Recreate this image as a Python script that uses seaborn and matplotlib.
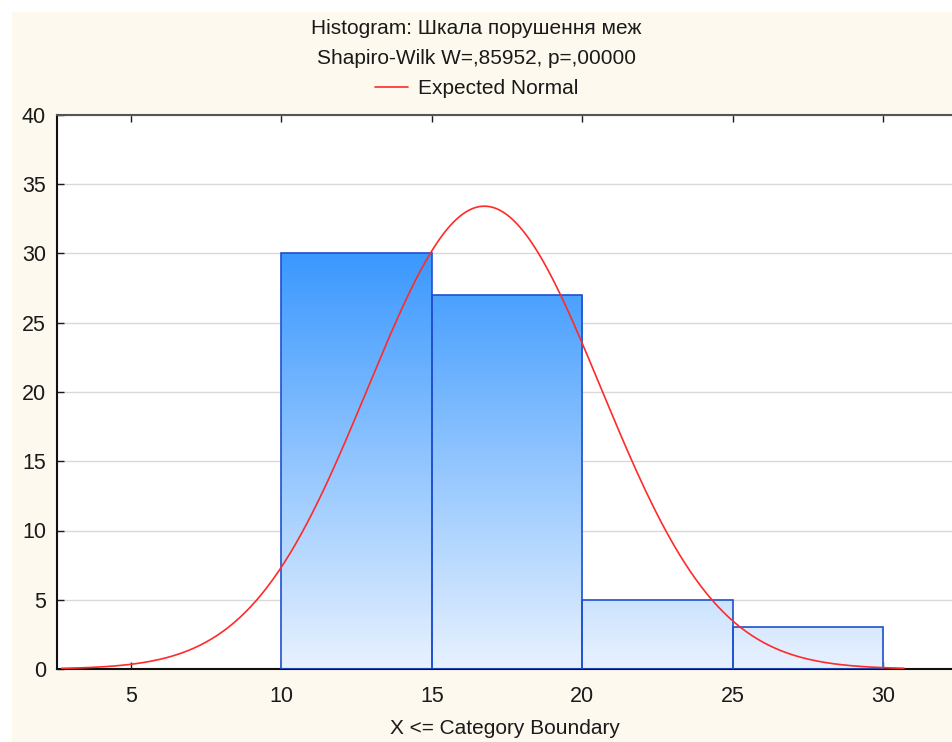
import numpy as np
import pandas as pd
import matplotlib
matplotlib.use("Agg")
import matplotlib.pyplot as plt
import seaborn as sns
from matplotlib.colors import LinearSegmentedColormap
from matplotlib.lines import Line2D
from matplotlib.patches import Rectangle

# histogram
BIN_EDGES = [10, 15, 20, 25, 30]
COUNTS = [30, 27, 5, 3]
MEAN, SD = 16.75, 3.88          # expected normal fit
X_TICKS = [5, 10, 15, 20, 25, 30]
Y_TICKS = [0, 5, 10, 15, 20, 25, 30, 35, 40]

TITLE_1 = "Histogram: Шкала порушення меж"
TITLE_2 = "Shapiro-Wilk W=,85952, p=,00000"
LEGEND = "Expected Normal"
XLABEL = "X <= Category Boundary"

sns.set_style("white")
plt.rcParams["font.family"] = ["Liberation Sans", "DejaVu Sans"]

BEIGE = "#fef9ee"
TXT = "#1a1a1a"

fig = plt.figure(figsize=(9.53, 7.42), dpi=100, facecolor="white")
fig.patches.append(Rectangle((12 / 953, 0), 1, 1 - 12 / 742, transform=fig.transFigure,
                             facecolor=BEIGE, edgecolor="none", zorder=-10))
ax = fig.add_axes([57 / 953, 1 - 669 / 742, 1 - 57 / 953, (669 - 115) / 742])
ax.set_facecolor("white")

df = pd.DataFrame({
    "mid": [(a + b) / 2 for a, b in zip(BIN_EDGES[:-1], BIN_EDGES[1:])],
    "n": COUNTS,
})
sns.histplot(data=df, x="mid", weights="n", bins=BIN_EDGES, ax=ax,
             facecolor="none", edgecolor="#1f50d0", linewidth=1.2, alpha=1, zorder=3)

# vertical gradient fill clipped to each bar
cmap = LinearSegmentedColormap.from_list("bar", ["#e8f2fe", "#3a98ff"])
grad = np.linspace(0, 1, 256).reshape(-1, 1)
for p in ax.patches:
    im = ax.imshow(grad, extent=[BIN_EDGES[0], BIN_EDGES[-1], 0, max(COUNTS)],
                   origin="lower", aspect="auto", cmap=cmap, zorder=2)
    im.set_clip_path(p)

# expected normal curve (counts scale)
xs = np.linspace(2.7, 30.7, 300)
binw = BIN_EDGES[1] - BIN_EDGES[0]
ys = sum(COUNTS) * binw / (SD * np.sqrt(2 * np.pi)) * np.exp(-0.5 * ((xs - MEAN) / SD) ** 2)
sns.lineplot(x=xs, y=ys, ax=ax, color="#ff2a2a", linewidth=1.2, zorder=4)

ax.set_xlim(2.54, 32.33)
ax.set_ylim(0, 40)
ax.set_xticks(X_TICKS)
ax.set_yticks(Y_TICKS)
ax.yaxis.grid(True, color="#d9d9d9", linewidth=1, zorder=0)
ax.set_axisbelow(True)
ax.tick_params(axis="both", direction="in", length=5, width=1, labelsize=15.5,
               colors=TXT, top=True, left=True, bottom=True)
ax.tick_params(axis="x", pad=12)
ax.tick_params(axis="y", pad=8)
for s in ["left", "bottom"]:
    ax.spines[s].set_color("#111111")
    ax.spines[s].set_linewidth(1.5)
ax.spines["top"].set_color("#555555")
ax.spines["top"].set_linewidth(1.5)
ax.spines["right"].set_visible(False)
ax.set_xlabel("")
ax.set_ylabel("")

fig.text(505 / 953, 1 - 729 / 742, XLABEL, ha="center", va="center", fontsize=15, color=TXT)
fig.text(0.5, 1 - 28 / 742, TITLE_1, ha="center", va="center", fontsize=15, color=TXT)
fig.text(0.5, 1 - 58 / 742, TITLE_2, ha="center", va="center", fontsize=15, color=TXT)
fig.legend(handles=[Line2D([], [], color="#ff2a2a", linewidth=1.2)], labels=[LEGEND],
           loc="center", bbox_to_anchor=(0.5, 1 - 89 / 742), frameon=False,
           fontsize=15, handlelength=1.6, handletextpad=0.45, labelcolor=TXT)

fig.savefig("out.png", dpi=100, facecolor=fig.get_facecolor())
